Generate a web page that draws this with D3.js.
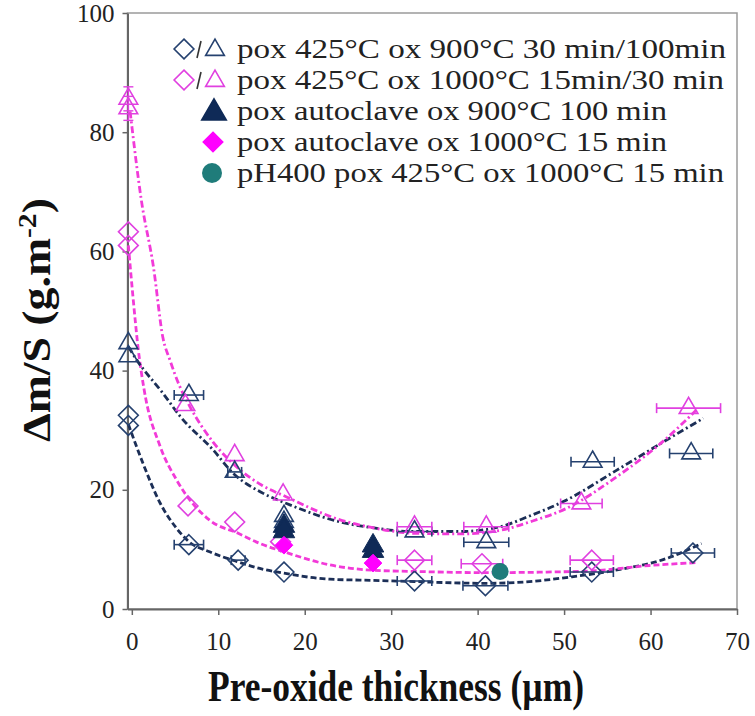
<!DOCTYPE html>
<html><head><meta charset="utf-8">
<script src="https://cdn.jsdelivr.net/npm/d3@7"></script>
<style>body{margin:0;background:#fff}svg{display:block}</style>
</head><body>
<svg id="chart" width="755" height="716"></svg>
<script>
// ---- data ----
const xTicks = [0,10,20,30,40,50,60,70];
const yTicks = [0,20,40,60,80,100];

const blueDiaX    = [-0.4, -0.4, 6.6, 12.3, 17.6, 32.7, 40.9, 53.2, 64.9];
const blueDiaY    = [32.5, 30.8, 10.8, 8.2, 6.2, 4.7, 3.9, 6.2, 9.4];
const blueDiaXerr = [0, 0, 1.7, 0.8, 0, 2.0, 2.6, 2.5, 2.5];

const blueTriX    = [-0.4, -0.4, 6.6, 11.9, 17.6, 17.6, 32.7, 41.0, 53.3, 64.7];
const blueTriY    = [44.6, 42.4, 35.9, 23.0, 15.6, 14.6, 13.0, 11.2, 24.7, 26.1];
const blueTriXerr = [0, 0, 1.7, 0.8, 0, 0, 2.0, 2.6, 2.5, 2.5];

const magDiaX     = [-0.4, -0.4, 6.5, 11.9, 17.2, 32.7, 40.5, 53.2];
const magDiaY     = [63.3, 61.0, 17.3, 14.6, 11.3, 8.2, 7.6, 8.2];
const magDiaXerr  = [0, 0, 0, 0, 0, 2.0, 2.4, 2.5];

const magTriX     = [-0.4, -0.4, 6.2, 11.9, 17.5, 32.7, 41.0, 52.0, 64.4];
const magTriY     = [85.6, 84.0, 34.2, 25.8, 19.2, 13.8, 13.8, 17.7, 33.7];
const magTriXerr  = [0, 0, 0, 0, 0, 2.0, 2.6, 2.4, 3.7];

const autoTriX = [17.6, 17.6, 27.9, 27.9];
const autoTriY = [13.9, 13.0, 10.6, 9.7];
const autoDiaX = [17.6, 27.9];
const autoDiaY = [10.7, 7.7];
const ph400X = [42.6];
const ph400Y = [6.3];

const fitBlueDiaX = [-0.4, 1.3, 3.3, 5.2, 6.6, 9.0, 12.3, 14.8, 17.6, 22.9, 27.9, 32.7, 40.9, 46, 50.9, 55.9, 61.9, 65.9];
const fitBlueDiaY = [31.0, 24.4, 17.7, 13.5, 11.3, 9.6, 7.9, 6.8, 6.0, 5.0, 4.8, 4.6, 4.3, 4.6, 5.4, 6.5, 8.5, 11.0];
const fitMagDiaX  = [-0.4, 0.17, 0.75, 1.4, 3.3, 5.2, 9.0, 12.3, 14.8, 17.6, 22.9, 27.9, 32.7, 40.9, 48, 53.2, 59.9, 65.5];
const fitMagDiaY  = [61.0, 51.8, 43.5, 37.0, 27.2, 21.6, 14.9, 12.7, 11.0, 9.6, 7.4, 6.5, 6.3, 6.1, 6.2, 6.4, 7.3, 7.8];
const fitBlueTriX = [-0.4, 0.56, 3.6, 5.6, 9.4, 11.7, 15.2, 17.9, 24.1, 28, 32.7, 38, 42.6, 46, 50.3, 56.1, 61.9, 66.1];
const fitBlueTriY = [44.0, 41.8, 36.2, 32.3, 26.7, 22.8, 19.4, 17.7, 14.6, 13.6, 13.0, 13.0, 13.8, 15.6, 18.3, 23.3, 28.4, 32.0];
const fitMagTriX  = [-0.2, 1.1, 2.5, 3.6, 4.4, 5.5, 6.7, 9.4, 12, 15, 17.9, 24, 28, 32.7, 38, 42.6, 46, 50.3, 56.1, 61.9, 65.3];
const fitMagTriY  = [83.5, 68.6, 57.4, 45.5, 41.8, 37.5, 34.0, 28.0, 24.0, 20.8, 18.8, 15.0, 13.6, 12.7, 12.6, 13.2, 14.6, 16.9, 22.2, 28.7, 33.4];

const legendLabels = [
  "pox 425°C ox 900°C 30 min/100min",
  "pox 425°C ox 1000°C 15min/30 min",
  "pox autoclave ox 900°C 100 min",
  "pox autoclave ox 1000°C 15 min",
  "pH400 pox 425°C ox 1000°C 15 min"
];
const legendWidths = [489, 487, 430, 430, 487];

// ---- styles ----
const NAVY = "#25416f", NAVYLINE = "#1c2f57", NAVYFILL = "#0f2a57";
const MAG = "#e040e0", MAGLINE = "#f23ad8", MAGFILL = "#ff00ff", TEAL = "#1f7c7a";
const FONT = "Liberation Serif, Times New Roman, serif";

const svg = d3.select("#chart");
const x = d3.scaleLinear().domain([-0.5, 70]).range([127.5, 737]);
const y = d3.scaleLinear().domain([0, 100]).range([609, 13]);

// frame
svg.append("rect").attr("x", 127.5).attr("y", 13).attr("width", 737-127.5).attr("height", 609-13)
  .attr("fill", "none").attr("stroke", "#9a9a9a").attr("stroke-width", 1.5);

// axes
const gx = svg.append("g").attr("transform", "translate(0,609)")
  .call(d3.axisBottom(x).tickValues(xTicks).tickSize(6).tickSizeOuter(0).tickPadding(17));
const gy = svg.append("g").attr("transform", "translate(127.5,0)")
  .call(d3.axisLeft(y).tickValues(yTicks).tickSize(5).tickSizeOuter(0).tickPadding(8));
[gx, gy].forEach(g => {
  g.attr("font-family", null);
  g.select(".domain").attr("stroke", "#666").attr("stroke-width", 2);
  g.selectAll(".tick line").attr("stroke", "#666").attr("stroke-width", 1.5);
  g.selectAll(".tick text").style("font-family", FONT).style("font-size", "25px").attr("fill", "#222");
});
gx.selectAll(".tick text").attr("dy", "0.71em");

// titles
svg.append("text").attr("x", 396).attr("y", 701).attr("text-anchor", "middle")
  .style("font-family", FONT).attr("font-weight", "bold").style("font-size", "44px")
  .attr("textLength", 376).attr("lengthAdjust", "spacingAndGlyphs").attr("fill", "#111")
  .text("Pre-oxide thickness (µm)");
const yt = svg.append("text").attr("transform", "translate(50,320) rotate(-90)").attr("text-anchor", "middle")
  .style("font-family", FONT).attr("font-weight", "bold").style("font-size", "40px")
  .attr("textLength", 244).attr("lengthAdjust", "spacingAndGlyphs").attr("fill", "#111");
yt.append("tspan").text("Δm/S (g.m");
yt.append("tspan").style("font-size", "26px").attr("dy", -14).text("-2");
yt.append("tspan").attr("dy", 14).text(")");

// fit curves
const line = d3.line().x(d => x(d[0])).y(d => y(d[1])).curve(d3.curveMonotoneX);
function fit(xs, ys, color, dash) {
  svg.append("path").datum(xs.map((v, i) => [v, ys[i]]))
    .attr("d", line).attr("fill", "none").attr("stroke", color)
    .attr("stroke-width", 2.8).attr("stroke-dasharray", dash);
}
fit(fitBlueDiaX, fitBlueDiaY, NAVYLINE, "6,3");
fit(fitMagDiaX, fitMagDiaY, MAGLINE, "6,3");
fit(fitBlueTriX, fitBlueTriY, NAVYLINE, "7,3,2,3");
fit(fitMagTriX, fitMagTriY, MAGLINE, "7,3,2,3");

// error bars
function errbars(xs, ys, errs, color) {
  const g = svg.append("g").attr("stroke", color).attr("stroke-width", 1.6);
  xs.forEach((v, i) => {
    const e = errs[i]; if (!e) return;
    const cy = y(ys[i]), x0 = x(v - e), x1 = x(v + e);
    g.append("line").attr("x1", x0).attr("x2", x1).attr("y1", cy).attr("y2", cy);
    g.append("line").attr("x1", x0).attr("x2", x0).attr("y1", cy - 5).attr("y2", cy + 5);
    g.append("line").attr("x1", x1).attr("x2", x1).attr("y1", cy - 5).attr("y2", cy + 5);
  });
}
function yerrCaps(xs, ys, color) {
  const g = svg.append("g").attr("stroke", color).attr("stroke-width", 1.4);
  xs.forEach((v, i) => {
    if (v > 0) return;
    const cx = x(v), cy = y(ys[i]);
    g.append("line").attr("x1", cx).attr("x2", cx).attr("y1", cy - 12).attr("y2", cy + 12);
    [cy - 12, cy + 12].forEach(yy => g.append("line").attr("x1", cx - 5).attr("x2", cx + 5).attr("y1", yy).attr("y2", yy));
  });
}
errbars(blueDiaX, blueDiaY, blueDiaXerr, NAVY);
errbars(blueTriX, blueTriY, blueTriXerr, NAVY);
errbars(magDiaX, magDiaY, magDiaXerr, MAG);
errbars(magTriX, magTriY, magTriXerr, MAG);
yerrCaps(magTriX, magTriY, MAG);

// markers
const diamond = d3.symbol().type(d3.symbolDiamond2).size(250);
const triangle = d3.symbol().type(d3.symbolTriangle2).size(250);
function marks(xs, ys, sym, stroke, fill, sw) {
  svg.append("g").selectAll("path").data(xs.map((v, i) => [v, ys[i]])).join("path")
    .attr("d", sym).attr("transform", d => `translate(${x(d[0])},${y(d[1])})`)
    .attr("fill", fill).attr("stroke", stroke).attr("stroke-width", sw);
}
marks(blueDiaX, blueDiaY, diamond, NAVY, "none", 1.6);
marks(magDiaX, magDiaY, diamond, MAG, "none", 1.6);
marks(magTriX, magTriY, triangle, MAG, "none", 1.6);
marks(blueTriX, blueTriY, triangle, NAVY, "none", 1.6);
marks(autoTriX, autoTriY, d3.symbol().type(d3.symbolTriangle).size(200), NAVYFILL, NAVYFILL, 1);
marks(autoDiaX, autoDiaY, d3.symbol().type(d3.symbolDiamond2).size(200), MAGFILL, MAGFILL, 1);
svg.append("g").selectAll("circle").data(ph400X.map((v, i) => [v, ph400Y[i]])).join("circle")
  .attr("cx", d => x(d[0])).attr("cy", d => y(d[1])).attr("r", 8.5).attr("fill", TEAL);

// legend
const lg = svg.append("g");
const rowY = i => 49 + i * 31;
legendLabels.forEach((t, i) => {
  lg.append("text").attr("x", 237).attr("y", rowY(i) + 9).style("font-family", FONT)
    .style("font-size", "28px").attr("fill", "#222")
    .attr("textLength", legendWidths[i]).attr("lengthAdjust", "spacingAndGlyphs").text(t);
});
function lsym(sym, cx, cy, stroke, fill) {
  lg.append("path").attr("d", sym).attr("transform", `translate(${cx},${cy})`)
    .attr("fill", fill).attr("stroke", stroke).attr("stroke-width", 1.6);
}
[0, 1].forEach(i => {
  const c = i === 0 ? NAVY : MAG;
  lsym(diamond, 184, rowY(i), c, "none");
  lsym(triangle, 215, rowY(i) + 1, c, "none");
  lg.append("line").attr("x1", 197).attr("x2", 201).attr("y1", rowY(i) + 9).attr("y2", rowY(i) - 8)
    .attr("stroke", "#333").attr("stroke-width", 1.6);
});
lsym(d3.symbol().type(d3.symbolTriangle).size(260), 214, rowY(2) + 2, NAVYFILL, NAVYFILL);
lsym(d3.symbol().type(d3.symbolDiamond2).size(240), 213, rowY(3), MAGFILL, MAGFILL);
lg.append("circle").attr("cx", 212).attr("cy", rowY(4)).attr("r", 10).attr("fill", TEAL);
</script>
</body></html>
